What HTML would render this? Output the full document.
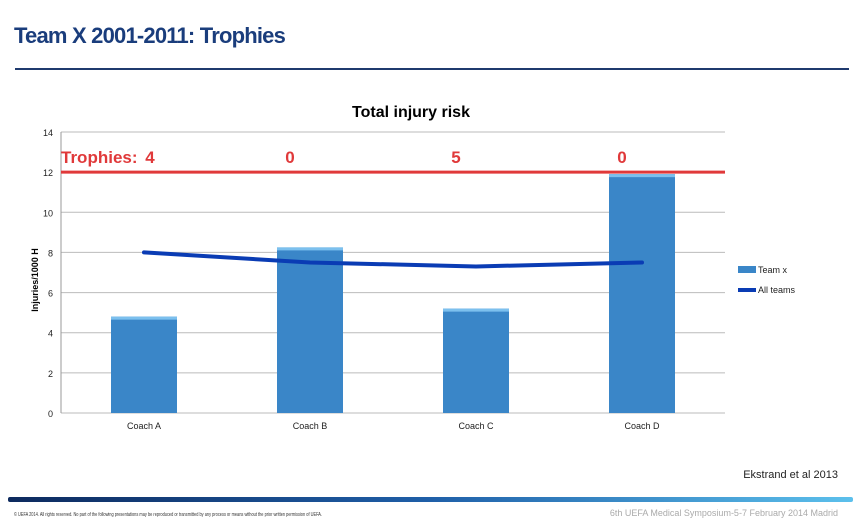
<!DOCTYPE html>
<html><head><meta charset="utf-8"><style>
body{margin:0;width:868px;height:530px;background:#fff;overflow:hidden;font-family:"Liberation Sans",sans-serif;position:relative}
.abs{position:absolute}
</style></head><body>
<div class="abs" style="left:14px;top:23px;font-size:22px;font-weight:bold;color:#1a3d7c;letter-spacing:-0.8px">Team X 2001-2011: Trophies</div>
<div class="abs" style="left:15px;top:68px;width:834px;height:2px;background:#1f3a6e"></div>
<svg class="abs" style="left:0;top:0" width="868" height="530" id="chart">
<text x="411" y="117" text-anchor="middle" font-size="16" font-weight="bold" fill="#000">Total injury risk</text>
<text transform="translate(38,280) rotate(-90)" text-anchor="middle" font-size="9" font-weight="bold" fill="#000">Injuries/1000 H</text>
<g id="grid"></g><g id="bars"></g><g id="line"></g><g id="labels"></g>
<text x="61" y="163" font-size="17" font-weight="bold" fill="#e0393a">Trophies:</text>
<rect x="738" y="266" width="18" height="7" fill="#3a86c8"/>
<text x="758" y="273" font-size="9" fill="#222">Team x</text>
<line x1="738" y1="290" x2="756" y2="290" stroke="#0a3cb4" stroke-width="4"/>
<text x="758" y="293" font-size="9" fill="#222">All teams</text>
<text x="838" y="478" text-anchor="end" font-size="11" fill="#222">Ekstrand et al 2013</text>
<defs><linearGradient id="gb" x1="0" x2="1"><stop offset="0" stop-color="#0d2a5e"/><stop offset="0.5" stop-color="#1f5fa8"/><stop offset="1" stop-color="#5cc0ec"/></linearGradient></defs>
<rect x="8" y="497" width="845" height="5" rx="2" fill="url(#gb)"/>
<text x="14" y="516" font-size="5.5" fill="#333" textLength="308" lengthAdjust="spacingAndGlyphs">© UEFA 2014. All rights reserved. No part of the following presentations may be reproduced or transmitted by any process or means without the prior written permission of UEFA.</text>
<text x="838" y="516" text-anchor="end" font-size="9" fill="#aaa">6th UEFA Medical Symposium-5-7 February 2014 Madrid</text>
</svg>
<script>
const categories=["Coach A","Coach B","Coach C","Coach D"];
const teamX=[4.8,8.25,5.2,11.9];
const allTeams=[8.0,7.5,7.3,7.5];
const trophies=[4,0,5,0];
const yTicks=[0,2,4,6,8,10,12,14];
const X0=61,X1=725,Y0=413,Y1=132,YMAX=14;
const band=(X1-X0)/categories.length;
const xc=i=>X0+band*(i+0.5);
const y=v=>Y0-(v/YMAX)*(Y0-Y1);
const NS="http://www.w3.org/2000/svg";
function mk(t,a,p){const e=document.createElementNS(NS,t);for(const k in a)e.setAttribute(k,a[k]);p.appendChild(e);return e;}
const g=document.getElementById('grid'),b=document.getElementById('bars'),l=document.getElementById('line'),lb=document.getElementById('labels');
yTicks.forEach(t=>{
 const ln=mk('line',{x1:X0,x2:X1,y1:y(t),y2:y(t),stroke:'#bbb','stroke-width':1},g);
 
 
 const tx=mk('text',{x:X0-8,y:y(t)+4,'text-anchor':'end','font-size':9,fill:'#222'},g);tx.textContent=t;
 
 
});
const ax=mk('line',{x1:X0,x2:X0,y1:Y1,y2:Y0,stroke:'#999'},g);


categories.forEach((c,i)=>{
 const bw=66;
 const r=mk('rect',{x:xc(i)-bw/2,y:y(teamX[i]),width:bw,height:Y0-y(teamX[i]),fill:'#3a86c8'},b);
 
 
 const cap=mk('rect',{x:xc(i)-bw/2,y:y(teamX[i]),width:bw,height:3,fill:'#7cc0ee'},b);
 
 
 const tx=mk('text',{x:xc(i),y:Y0+16,'text-anchor':'middle','font-size':9,fill:'#222'},lb);tx.textContent=c;
 
 
 const tr=mk('text',{x:i==0?150:xc(i)-20,y:163,'text-anchor':'middle','font-size':17,'font-weight':'bold',fill:'#e0393a'},lb);tr.textContent=trophies[i];
 
 
});
const red=mk('line',{x1:X0,x2:X1,y1:y(12),y2:y(12),stroke:'#e0393a','stroke-width':3},l);


const pl=mk('polyline',{points:allTeams.map((v,i)=>xc(i)+','+y(v)).join(' '),fill:'none',stroke:'#0a3cb4','stroke-width':4,'stroke-linecap':'round','stroke-linejoin':'round'},l);


</script>
</body></html>
